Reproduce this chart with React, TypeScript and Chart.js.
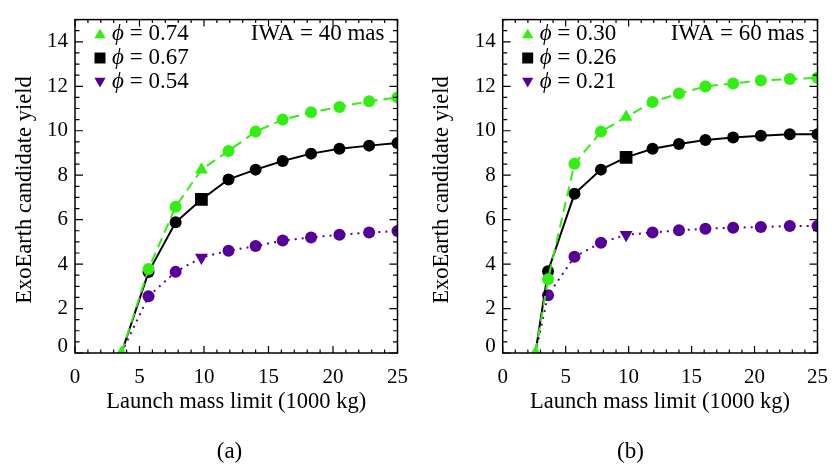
import React, { useEffect, useRef } from 'react';
import { Chart, registerables } from 'chart.js';

Chart.register(...registerables);

// Launch mass limits (1000 kg) at which the yield was evaluated
const massA = [3.6, 5.7, 7.8, 9.8, 11.9, 14.0, 16.1, 18.3, 20.5, 22.8, 25.0];
const massB = [2.6, 3.6, 5.7, 7.8, 9.8, 11.9, 14.0, 16.1, 18.3, 20.5, 22.8, 25.0];

// Panel (a): IWA = 40 mas
const yieldA_phi074 = [0, 3.78, 6.58, 8.25, 9.09, 9.96, 10.5, 10.83, 11.07, 11.33, 11.5];
const yieldA_phi067 = [0, 3.64, 5.88, 6.91, 7.81, 8.25, 8.64, 8.97, 9.19, 9.33, 9.45];
const yieldA_phi054 = [0, 2.55, 3.65, 4.3, 4.6, 4.81, 5.06, 5.2, 5.32, 5.42, 5.49];

// Panel (b): IWA = 60 mas
const yieldB_phi030 = [0, 3.32, 8.51, 9.96, 10.62, 11.29, 11.68, 11.99, 12.13, 12.26, 12.33, 12.38];
const yieldB_phi026 = [0, 3.68, 7.16, 8.25, 8.8, 9.19, 9.4, 9.58, 9.7, 9.77, 9.84, 9.84];
const yieldB_phi021 = [0, 2.6, 4.33, 4.96, 5.32, 5.42, 5.52, 5.59, 5.64, 5.67, 5.71, 5.71];

const phiA = ['0.74', '0.67', '0.54'];
const phiB = ['0.30', '0.26', '0.21'];
const iwaLabels = ['IWA = 40 mas', 'IWA = 60 mas'];
const captions = ['(a)', '(b)'];

const X_TITLE = 'Launch mass limit (1000 kg)';
const Y_TITLE = 'ExoEarth candidate yield';

const X_MIN = 0, X_MAX = 25, X_MAJOR = 5, X_MINOR = 1;
const Y_MIN = 0, Y_MAX = 15, Y_MAJOR = 2, Y_MINOR = 0.5;

const GREEN = 'rgb(51, 238, 17)';
const BLACK = '#000000';
const PURPLE = 'rgb(85, 0, 153)';
const COLORS = [GREEN, BLACK, PURPLE];
const DASHES = [[10, 6], [], [2, 5]];
const SERIF = '"Liberation Serif", "Times New Roman", serif';

type PanelProps = {
  mass: number[];
  series: number[][];
  phi: string[];
  iwa: string;
  caption: string;
  refIndex: number;
  left: number;
  axisLeft: number;
  axisRight: number;
  yTitleX: number;
  captionX: number;
};

const W = 420;
const H = 468;
const AREA_TOP = 8;
const AREA_BOTTOM = 353;

function marker(ctx: CanvasRenderingContext2D, kind: string, x: number, y: number, r: number) {
  ctx.beginPath();
  if (kind === 'up') {
    ctx.moveTo(x, y - r);
    ctx.lineTo(x + r * 0.866, y + r * 0.5);
    ctx.lineTo(x - r * 0.866, y + r * 0.5);
  } else if (kind === 'down') {
    ctx.moveTo(x, y + r);
    ctx.lineTo(x + r * 0.866, y - r * 0.5);
    ctx.lineTo(x - r * 0.866, y - r * 0.5);
  } else {
    ctx.rect(x - r, y - r, 2 * r, 2 * r);
  }
  ctx.closePath();
  ctx.fill();
}

function Panel(p: PanelProps) {
  const ref = useRef<HTMLCanvasElement | null>(null);

  useEffect(() => {
    if (!ref.current) return;

    const datasets = p.series.map((vals, i) => {
      const styles = vals.map((_, j) => {
        if (j === 0) return 'triangle';
        if (j === p.refIndex) return i === 1 ? 'rect' : 'triangle';
        return 'circle';
      });
      const radii = vals.map((_, j) => {
        if (j === 0) return i === 0 ? 7.5 : 0;
        if (j === p.refIndex) return i === 1 ? 9 : 7.5;
        return 6;
      });
      const rot = vals.map((_, j) => (j === p.refIndex && i === 2 ? 180 : 0));
      return {
        data: p.mass.map((x, j) => ({ x, y: vals[j] })),
        borderColor: COLORS[i],
        backgroundColor: COLORS[i],
        borderWidth: 2,
        borderDash: DASHES[i],
        pointStyle: styles,
        pointRadius: radii,
        pointRotation: rot,
        pointBorderWidth: 0,
        pointHoverRadius: radii,
        tension: 0,
        clip: 0,
      };
    });

    const frame = {
      id: 'frame',
      afterDatasetsDraw(chart: any) {
        const { ctx, chartArea: a, scales } = chart;
        const xs = scales.x;
        const ys = scales.y;
        ctx.save();
        ctx.strokeStyle = '#000';
        ctx.lineWidth = 1.5;
        ctx.strokeRect(a.left, a.top, a.right - a.left, a.bottom - a.top);

        ctx.lineWidth = 1.2;
        ctx.beginPath();
        for (let v = X_MIN; v <= X_MAX + 1e-9; v += X_MINOR) {
          const px = xs.getPixelForValue(v);
          const len = Math.abs(v % X_MAJOR) < 1e-6 ? 7 : 3.5;
          ctx.moveTo(px, a.bottom);
          ctx.lineTo(px, a.bottom - len);
          ctx.moveTo(px, a.top);
          ctx.lineTo(px, a.top + len);
        }
        for (let v = Y_MIN; v <= Y_MAX + 1e-9; v += Y_MINOR) {
          const py = ys.getPixelForValue(v);
          const len = Math.abs(v % Y_MAJOR) < 1e-6 ? 8 : 4.5;
          ctx.moveTo(a.left, py);
          ctx.lineTo(a.left + len, py);
          ctx.moveTo(a.right, py);
          ctx.lineTo(a.right - len, py);
        }
        ctx.stroke();

        // the zero label sits a little above its tick, clear of the x labels
        ctx.fillStyle = '#000';
        ctx.font = `21px ${SERIF}`;
        ctx.textAlign = 'right';
        ctx.textBaseline = 'middle';
        ctx.fillText(String(Y_MIN), a.left - 7, ys.getPixelForValue(Y_MIN) - 7);

        // legend
        const kinds = ['up', 'square', 'down'];
        const rowY = [34, 58, 82];
        p.phi.forEach((label, i) => {
          const y = rowY[i];
          ctx.fillStyle = COLORS[i];
          marker(ctx, kinds[i], a.left + 25, y + (i === 0 ? 1 : i === 2 ? -1 : 0), kinds[i] === 'square' ? 5.5 : 6.5);
          ctx.fillStyle = '#000';
          ctx.textBaseline = 'middle';
          ctx.textAlign = 'left';
          ctx.font = `italic 23px ${SERIF}`;
          const sx = a.left + 37;
          ctx.fillText('\u03d5', sx, y);
          const w = ctx.measureText('\u03d5').width;
          ctx.font = `23px ${SERIF}`;
          ctx.fillText(` = ${label}`, sx + w, y);
        });

        ctx.font = `23px ${SERIF}`;
        ctx.textAlign = 'right';
        ctx.textBaseline = 'middle';
        ctx.fillText(p.iwa, a.right - 13, 34);

        // axis titles
        ctx.font = `22.5px ${SERIF}`;
        ctx.textAlign = 'center';
        ctx.textBaseline = 'middle';
        ctx.fillText(X_TITLE, (a.left + a.right) / 2, 402);
        ctx.save();
        ctx.translate(p.yTitleX, 190);
        ctx.rotate(-Math.PI / 2);
        ctx.fillText(Y_TITLE, 0, 0);
        ctx.restore();

        ctx.font = `23px ${SERIF}`;
        ctx.fillText(p.caption, p.captionX, 452);
        ctx.restore();
      },
    };

    const chart = new Chart(ref.current, {
      type: 'line',
      data: { datasets: datasets as any },
      options: {
        animation: false,
        responsive: false,
        events: [],
        layout: { padding: { left: 0, right: W - p.axisRight, top: AREA_TOP, bottom: 0 } },
        plugins: { legend: { display: false }, tooltip: { enabled: false } },
        scales: {
          x: {
            type: 'linear',
            min: X_MIN,
            max: X_MAX,
            grid: { display: false, drawTicks: false },
            border: { display: false },
            ticks: {
              stepSize: X_MAJOR,
              maxRotation: 0,
              padding: 12,
              color: '#000',
              font: { family: SERIF, size: 21 },
            },
            afterFit: (s: any) => {
              s.height = H - AREA_BOTTOM;
            },
          },
          y: {
            type: 'linear',
            min: Y_MIN,
            max: Y_MAX,
            grid: { display: false, drawTicks: false },
            border: { display: false },
            ticks: {
              stepSize: Y_MAJOR,
              includeBounds: false,
              padding: 7,
              color: '#000',
              font: { family: SERIF, size: 21 },
              callback: (v: any) => (Number(v) === Y_MIN ? '' : String(v)),
            },
            afterFit: (s: any) => {
              s.width = p.axisLeft;
            },
          },
        },
      },
      plugins: [frame],
    });
    return () => chart.destroy();
  }, []);

  return (
    <canvas
      ref={ref}
      width={W}
      height={H}
      style={{ position: 'absolute', left: p.left, top: 0, width: W, height: H }}
    />
  );
}

export default function App() {
  return (
    <div style={{ position: 'fixed', left: 0, top: 0, width: 840, height: 468, background: '#fff' }}>
      <Panel
        mass={massA}
        series={[yieldA_phi074, yieldA_phi067, yieldA_phi054]}
        phi={phiA}
        iwa={iwaLabels[0]}
        caption={captions[0]}
        refIndex={3}
        left={0}
        axisLeft={75}
        axisRight={399}
        yTitleX={25}
        captionX={229.5}
      />
      <Panel
        mass={massB}
        series={[yieldB_phi030, yieldB_phi026, yieldB_phi021]}
        phi={phiB}
        iwa={iwaLabels[1]}
        caption={captions[1]}
        refIndex={4}
        left={420}
        axisLeft={82.7}
        axisRight={405}
        yTitleX={22}
        captionX={210.5}
      />
    </div>
  );
}
